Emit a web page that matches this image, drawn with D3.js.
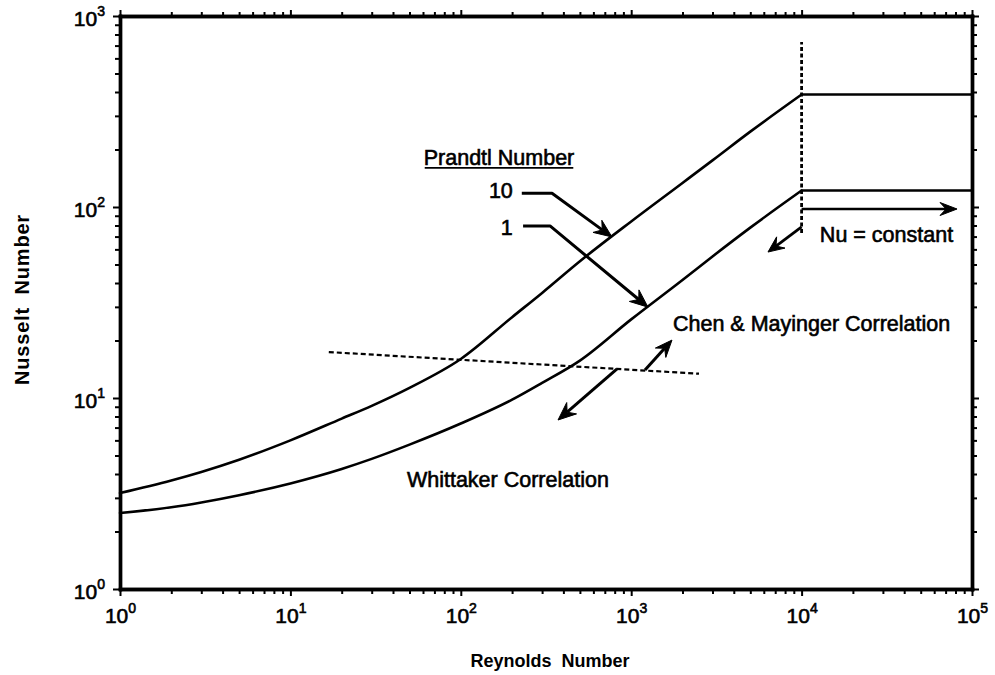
<!DOCTYPE html>
<html>
<head>
<meta charset="utf-8">
<script src="https://cdn.jsdelivr.net/npm/d3@7"></script>
<style>
  html, body { margin: 0; padding: 0; background: #fff; }
  svg { display: block; }
  text { font-family: "Liberation Sans", Arial, Helvetica, sans-serif; fill: #000; }
</style>
</head>
<body>
<svg id="chart" width="995" height="675"></svg>
<script>
// Reynolds numbers along each curve
const reynolds = [1, 2, 3, 5, 10, 20, 30, 50, 100, 200, 300, 500, 1000, 2000, 3000, 5000, 10000, 100000];
// Nusselt number, Prandtl number 10
const nuPr10 = [3.18, 3.7, 4.1, 4.75, 6.0, 7.8, 9.1, 11.3, 16.0, 26.5, 35.5, 52, 84, 133.6, 175.4, 248, 388, 388];
// Nusselt number, Prandtl number 1
const nuPr1 = [2.5, 2.68, 2.84, 3.1, 3.57, 4.25, 4.8, 5.7, 7.35, 9.8, 12.0, 15.7, 25.8, 41.5, 55.1, 78, 122, 122];

// Boundary between the two correlations (Re, Nu)
const transitionRe = [16.8, 2500];
const transitionNu = [17.4, 13.4];
// Onset of constant Nu
const constantRe = 10000;
const constantNuRange = [73, 730];

// Axis decades
const xMajor = [1, 10, 100, 1000, 10000, 100000];
const yMajor = [1, 10, 100, 1000];
const xExp = ["0", "1", "2", "3", "4", "5"];
const yExp = ["0", "1", "2", "3"];

const svg = d3.select("#chart");
const margin = { left: 120, right: 23, top: 16, bottom: 86 };
const W = 995, H = 675;

const x = d3.scaleLog().domain([1, 1e5]).range([margin.left, W - margin.right]);
const y = d3.scaleLog().domain([1, 1e3]).range([H - margin.bottom, margin.top]);

function minorTicks(domain) {
  const out = [];
  for (let d = domain[0]; d < domain[1]; d *= 10) {
    for (let k = 2; k <= 9; k++) out.push(d * k);
  }
  return out;
}
const xMinor = minorTicks([1, 1e5]);
const yMinor = minorTicks([1, 1e3]);

const x0 = x.range()[0], x1 = x.range()[1];
const y0 = y.range()[0], y1 = y.range()[1];

// ---- axes: outward ticks on all four sides ----
function styleAxis(g, width) {
  g.select(".domain").attr("stroke-width", width).attr("stroke-linecap", "square");
  g.selectAll(".tick line").attr("stroke-width", 2);
}

const bottomMinor = svg.append("g").attr("transform", `translate(0,${y0})`)
  .call(d3.axisBottom(x).tickValues(xMinor).tickSize(5).tickSizeOuter(0).tickFormat(""));
styleAxis(bottomMinor, 3.4);
const topMinor = svg.append("g").attr("transform", `translate(0,${y1})`)
  .call(d3.axisTop(x).tickValues(xMinor).tickSize(4).tickSizeOuter(0).tickFormat(""));
styleAxis(topMinor, 3.4);
const leftMinor = svg.append("g").attr("transform", `translate(${x0},0)`)
  .call(d3.axisLeft(y).tickValues(yMinor).tickSize(5).tickSizeOuter(0).tickFormat(""));
styleAxis(leftMinor, 3.4);
const rightMinor = svg.append("g").attr("transform", `translate(${x1},0)`)
  .call(d3.axisRight(y).tickValues(yMinor).tickSize(5).tickSizeOuter(0).tickFormat(""));
styleAxis(rightMinor, 3.4);

const bottomMajor = svg.append("g").attr("transform", `translate(0,${y0})`)
  .call(d3.axisBottom(x).tickValues(xMajor).tickSize(7).tickSizeOuter(0).tickFormat(""));
styleAxis(bottomMajor, 3.4);
const topMajor = svg.append("g").attr("transform", `translate(0,${y1})`)
  .call(d3.axisTop(x).tickValues(xMajor).tickSize(6).tickSizeOuter(0).tickFormat(""));
styleAxis(topMajor, 3.4);
const leftMajor = svg.append("g").attr("transform", `translate(${x0},0)`)
  .call(d3.axisLeft(y).tickValues(yMajor).tickSize(7).tickSizeOuter(0).tickFormat(""));
styleAxis(leftMajor, 3.4);
const rightMajor = svg.append("g").attr("transform", `translate(${x1},0)`)
  .call(d3.axisRight(y).tickValues(yMajor).tickSize(7).tickSizeOuter(0).tickFormat(""));
styleAxis(rightMajor, 3.4);

// Power-of-ten tick labels
bottomMajor.selectAll(".tick").each(function(d, i) {
  const t = d3.select(this).append("text")
    .attr("y", 34).attr("text-anchor", "middle")
    .attr("font-size", 21).attr("stroke", "#000").attr("stroke-width", 0.6);
  t.append("tspan").text("10");
  t.append("tspan").attr("font-size", 14).attr("dy", -10).text(xExp[i]);
});
leftMajor.selectAll(".tick").each(function(d, i) {
  const t = d3.select(this).append("text")
    .attr("x", -15).attr("y", 9).attr("text-anchor", "end")
    .attr("font-size", 21).attr("stroke", "#000").attr("stroke-width", 0.6);
  t.append("tspan").text("10");
  t.append("tspan").attr("font-size", 14).attr("dy", -10).text(yExp[i]);
});

// Axis titles
svg.append("text")
  .attr("x", (x0 + x1) / 2 + 4).attr("y", 667)
  .attr("text-anchor", "middle").attr("font-size", 18).attr("font-weight", "bold")
  .attr("xml:space", "preserve")
  .text("Reynolds  Number");
svg.append("text")
  .attr("transform", `translate(29,${(y0 + y1) / 2 - 3}) rotate(-90)`)
  .attr("text-anchor", "middle").attr("font-size", 20).attr("font-weight", "bold")
  .attr("letter-spacing", 0.8)
  .attr("xml:space", "preserve")
  .text("Nusselt  Number");

// ---- curves ----
const plot = svg.append("g");
const lineRise = d3.line().x(d => x(d[0])).y(d => y(d[1])).curve(d3.curveMonotoneX);
const lineFlat = d3.line().x(d => x(d[0])).y(d => y(d[1]));

function drawSeries(nu) {
  const pts = reynolds.map((r, i) => [r, nu[i]]);
  const k = reynolds.indexOf(constantRe);
  plot.append("path").attr("d", lineRise(pts.slice(0, k + 1)))
    .attr("fill", "none").attr("stroke", "#000").attr("stroke-width", 2.6).attr("stroke-linecap", "round");
  plot.append("path").attr("d", lineFlat(pts.slice(k)))
    .attr("fill", "none").attr("stroke", "#000").attr("stroke-width", 2.6).attr("stroke-linecap", "round");
}
drawSeries(nuPr10);
drawSeries(nuPr1);

// Transition between correlations
plot.append("path")
  .attr("d", lineFlat(transitionRe.map((r, i) => [r, transitionNu[i]])))
  .attr("fill", "none").attr("stroke", "#000").attr("stroke-width", 2.2)
  .attr("stroke-dasharray", "5,3");
plot.append("path")
  .attr("d", lineFlat(constantNuRange.map(n => [constantRe, n])))
  .attr("fill", "none").attr("stroke", "#000").attr("stroke-width", 2.8)
  .attr("stroke-dasharray", "4,2.5");

// ---- annotation arrows (points given as [Re, Nu]) ----
function arrow(points, width, head) {
  const px = points.map(p => [x(p[0]), y(p[1])]);
  const n = px.length;
  const tip = px[n - 1], prev = px[n - 2];
  const ang = Math.atan2(tip[1] - prev[1], tip[0] - prev[0]);
  const L = head[0], Wd = head[1], notch = head[2];
  const c = Math.cos(ang), s = Math.sin(ang);
  const pt = (a, b) => [tip[0] - a * c - b * -s, tip[1] - a * s - b * c];
  const back = pt(notch, 0);
  const shaft = px.slice(0, n - 1).concat([back]);
  plot.append("path").attr("d", d3.line()(shaft))
    .attr("fill", "none").attr("stroke", "#000").attr("stroke-width", width)
    .attr("stroke-linejoin", "round");
  plot.append("path")
    .attr("d", d3.line()([tip, pt(L, Wd), back, pt(L, -Wd)]) + "Z")
    .attr("fill", "#000").attr("stroke", "#000").attr("stroke-width", 1).attr("stroke-linejoin", "round");
}

// Prandtl number leaders
arrow([[228, 118], [343, 118], [771, 69.7]], 3, [18, 7.5, 12]);
arrow([[232, 79.6], [334, 79.6], [1255, 29.9]], 3, [18, 7.5, 12]);
// Correlation direction arrows
arrow([[1205, 14.0], [1735, 20.1]], 3, [17, 7, 11]);
arrow([[826, 14.2], [372, 7.67]], 3, [18, 7.5, 12]);
arrow([[10000, 78.6], [6350, 58.1]], 2.8, [16, 7, 10]);
// Constant Nu arrow
arrow([[10000, 97.6], [81700, 97.6]], 2.4, [17, 6.5, 11]);

// ---- annotation text ----
function label(re, nu, txt, anchor) {
  return plot.append("text")
    .attr("x", x(re)).attr("y", y(nu))
    .attr("text-anchor", anchor || "start")
    .attr("font-size", 21.5).attr("stroke", "#000").attr("stroke-width", 0.6)
    .text(txt);
}
const heading = label(167.6, 166, "Prandtl Number", "middle");
// underline beneath the heading, spanning its text
const hb = heading.node().getBBox();
plot.append("line")
  .attr("x1", hb.x + 1).attr("x2", hb.x + hb.width - 1)
  .attr("y1", y(166) + 3).attr("y2", y(166) + 3)
  .attr("stroke", "#000").attr("stroke-width", 1.8);
label(202, 112, "10", "end");
label(202, 71, "1", "end");
label(12800, 65.6, "Nu = constant", "start");
label(1759, 22.5, "Chen & Mayinger Correlation", "start");
label(48.3, 3.42, "Whittaker Correlation", "start");
</script>
</body>
</html>
